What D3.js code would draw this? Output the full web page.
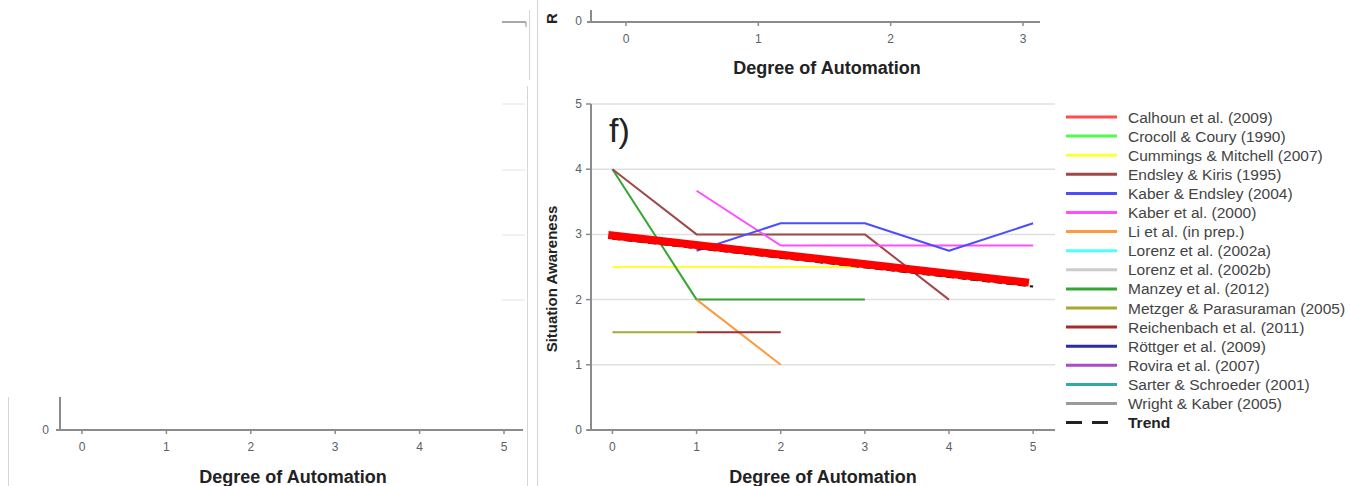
<!DOCTYPE html>
<html>
<head>
<meta charset="utf-8">
<script src="https://cdn.jsdelivr.net/npm/d3@7"></script>
<style>
  body { margin: 0; background: #fff; }
  svg { display: block; font-family: "Liberation Sans", Arial, sans-serif; }
</style>
</head>
<body>
<svg id="canvas" width="1350" height="486"></svg>
<script>
// ---- data ----
let degrees = [0, 1, 2, 3, 4, 5]
let awarenessTicks = [0, 1, 2, 3, 4, 5]

let studies = [
    'Calhoun et al. (2009)', 'Crocoll & Coury (1990)', 'Cummings & Mitchell (2007)',
    'Endsley & Kiris (1995)', 'Kaber & Endsley (2004)', 'Kaber et al. (2000)',
    'Li et al. (in prep.)', 'Lorenz et al. (2002a)', 'Lorenz et al. (2002b)',
    'Manzey et al. (2012)', 'Metzger & Parasuraman (2005)', 'Reichenbach et al. (2011)',
    'Röttger et al. (2009)', 'Rovira et al. (2007)', 'Sarter & Schroeder (2001)',
    'Wright & Kaber (2005)'
]
let studyColors = [
    '#ff4d4d', '#4dff4d', '#ffff33', '#a04848', '#4d4dff', '#ff4dff',
    '#ff9a3c', '#4dffff', '#cccccc', '#33a633', '#a8a833', '#a82b2b',
    '#2b2ba8', '#a84dc8', '#33a8a8', '#9a9a9a'
]

// situation awareness per degree of automation (null = not tested)
let cummingsValues     = [2.5, 2.5, 2.5, 2.5, null, null]
let endsleyKirisValues = [4, 3, 3, 3, 2, null]
let kaberEndsleyValues = [null, 2.75, 3.17, 3.17, 2.75, 3.17]
let kaber2000Values    = [null, 3.67, 2.83, 2.83, 2.83, 2.83]
let liValues           = [null, 2, 1, null, null, null]
let manzeyValues       = [4, 2, 2, 2, null, null]
let metzgerValues      = [1.5, 1.5, null, null, null, null]
let reichenbachValues  = [null, 1.5, 1.5, null, null, null]

let trendDegrees = [0, 5]
let trendValues = [2.935, 2.2]
let highlightDegrees = [-0.05, 4.95]
let highlightValues = [2.99, 2.26]

let seriesValues = {
    'Cummings & Mitchell (2007)': cummingsValues,
    'Manzey et al. (2012)': manzeyValues,
    'Endsley & Kiris (1995)': endsleyKirisValues,
    'Kaber et al. (2000)': kaber2000Values,
    'Kaber & Endsley (2004)': kaberEndsleyValues,
    'Li et al. (in prep.)': liValues,
    'Metzger & Parasuraman (2005)': metzgerValues,
    'Reichenbach et al. (2011)': reichenbachValues
}

let canvas = d3.select('#canvas')
let colorOf = d3.scaleOrdinal().domain(studies).range(studyColors)

let axisGray = '#8c8c8c'
let tickText = '#5a5f6a'

// draws an x axis in the figure's style
let drawXAxis = (g, xScale, yPos, x0, x1, labelY, titleY, titleX) => {
    g.append('line')
        .attr('x1', x0).attr('x2', x1).attr('y1', yPos).attr('y2', yPos)
        .attr('stroke', axisGray).attr('stroke-width', 2)
    let ticks = degrees.filter(d => xScale(d) >= x0 && xScale(d) <= x1)
    g.selectAll(null).data(ticks).enter().append('line')
        .attr('x1', d => xScale(d)).attr('x2', d => xScale(d))
        .attr('y1', yPos).attr('y2', yPos + 4)
        .attr('stroke', axisGray).attr('stroke-width', 1.5)
    g.selectAll(null).data(ticks).enter().append('text')
        .attr('x', d => xScale(d)).attr('y', labelY)
        .attr('text-anchor', 'middle').attr('font-size', 12).attr('fill', tickText)
        .text(d => d)
    g.append('text')
        .attr('x', titleX).attr('y', titleY)
        .attr('text-anchor', 'middle').attr('font-size', 18).attr('font-weight', 'bold')
        .attr('fill', '#222')
        .text('Degree of Automation')
}

// ---- panel borders (pieces of neighbouring panels) ----
let borders = canvas.append('g').attr('stroke', '#d6d6d6').attr('stroke-width', 1)
borders.append('line').attr('x1', 8.5).attr('x2', 8.5).attr('y1', 397).attr('y2', 486)
borders.append('line').attr('x1', 527.5).attr('x2', 527.5).attr('y1', 86).attr('y2', 486)
borders.append('line').attr('x1', 529.5).attr('x2', 529.5).attr('y1', 10).attr('y2', 80)
borders.append('line').attr('x1', 537.5).attr('x2', 537.5).attr('y1', 0).attr('y2', 486)

// ---- left panel remnant ----
let leftPanel = canvas.append('g')
let xLeft = d3.scaleLinear().domain([0, 5]).range([82, 504])
leftPanel.selectAll(null).data([104, 170, 235, 300]).enter().append('line')
    .attr('x1', 502).attr('x2', 525).attr('y1', d => d).attr('y2', d => d)
    .attr('stroke', '#e2e2e2').attr('stroke-width', 1)
leftPanel.append('line').attr('x1', 502).attr('x2', 526).attr('y1', 22).attr('y2', 22)
    .attr('stroke', axisGray).attr('stroke-width', 1.5)
leftPanel.append('line').attr('x1', 526).attr('x2', 526).attr('y1', 22).attr('y2', 27)
    .attr('stroke', axisGray).attr('stroke-width', 1)
leftPanel.append('line').attr('x1', 60).attr('x2', 60).attr('y1', 397).attr('y2', 430)
    .attr('stroke', axisGray).attr('stroke-width', 2)
leftPanel.append('text').attr('x', 49).attr('y', 434).attr('text-anchor', 'end')
    .attr('font-size', 12).attr('fill', tickText).text('0')
drawXAxis(leftPanel, xLeft, 430, 56, 523, 451, 483, 293)

// ---- top panel remnant ----
let topPanel = canvas.append('g')
let xTop = d3.scaleLinear().domain([0, 3]).range([626, 1023])
topPanel.append('line').attr('x1', 591).attr('x2', 591).attr('y1', 10).attr('y2', 22)
    .attr('stroke', axisGray).attr('stroke-width', 2)
topPanel.append('text').attr('x', 582).attr('y', 25).attr('text-anchor', 'end')
    .attr('font-size', 12).attr('fill', tickText).text('0')
topPanel.append('text').attr('transform', 'translate(557,24) rotate(-90)')
    .attr('text-anchor', 'start').attr('font-size', 15).attr('font-weight', 'bold')
    .attr('fill', '#222').text('R')
drawXAxis(topPanel, xTop, 22, 587, 1040, 43, 74, 827)

// ---- main panel f) ----
let x = d3.scaleLinear().domain([-0.255, 5.26]).range([591, 1055])
let y = d3.scaleLinear().domain([0, 5]).range([430, 104])
let main = canvas.append('g')

main.selectAll('.grid').data(awarenessTicks.filter(d => d > 0)).enter().append('line')
    .attr('class', 'grid')
    .attr('x1', 591).attr('x2', 1055)
    .attr('y1', d => y(d)).attr('y2', d => y(d))
    .attr('stroke', '#e0e0e0').attr('stroke-width', 1.5)

main.append('line').attr('x1', 591).attr('x2', 591).attr('y1', y(5)).attr('y2', y(0))
    .attr('stroke', axisGray).attr('stroke-width', 2)
main.selectAll('.ytick').data(awarenessTicks).enter().append('line')
    .attr('class', 'ytick')
    .attr('x1', 586).attr('x2', 591).attr('y1', d => y(d)).attr('y2', d => y(d))
    .attr('stroke', axisGray).attr('stroke-width', 1.5)
main.selectAll('.ylabel').data(awarenessTicks).enter().append('text')
    .attr('class', 'ylabel')
    .attr('x', 582).attr('y', d => y(d) + 4)
    .attr('text-anchor', 'end').attr('font-size', 12).attr('fill', tickText)
    .text(d => d)
main.append('text')
    .attr('transform', `translate(557,${(y(0) + y(5)) / 2 + 12}) rotate(-90)`)
    .attr('text-anchor', 'middle').attr('font-size', 15).attr('font-weight', 'bold')
    .attr('fill', '#222').text('Situation Awareness')

drawXAxis(main, x, 430, 587, 1055, 451, 483, 823)

main.append('text').attr('x', 609).attr('y', 142)
    .attr('font-size', 34).attr('fill', '#222').text('f)')

let line = d3.line()
    .defined(d => d[1] !== null)
    .x(d => x(d[0]))
    .y(d => y(d[1]))

Object.keys(seriesValues).forEach(name => {
    let pts = degrees.map((d, i) => [d, seriesValues[name][i]])
    main.append('path')
        .attr('d', line(pts))
        .attr('fill', 'none')
        .attr('stroke', colorOf(name))
        .attr('stroke-width', 2)
        .attr('stroke-linejoin', 'round')
})

main.append('path')
    .attr('d', line(trendDegrees.map((d, i) => [d, trendValues[i]])))
    .attr('fill', 'none').attr('stroke', '#111').attr('stroke-width', 2)
    .attr('stroke-dasharray', '8,4')

main.append('path')
    .attr('d', line(highlightDegrees.map((d, i) => [d, highlightValues[i]])))
    .attr('fill', 'none').attr('stroke', '#ff0000').attr('stroke-width', 8)

// ---- legend ----
let legend = canvas.append('g').attr('transform', 'translate(1066,117)')
let rowH = 19.1
let rows = legend.selectAll('.row').data(studies).enter().append('g')
    .attr('class', 'row')
    .attr('transform', (d, i) => `translate(0,${i * rowH})`)
rows.append('line')
    .attr('x1', 0).attr('x2', 51).attr('y1', 0).attr('y2', 0)
    .attr('stroke', d => colorOf(d)).attr('stroke-width', 3)
rows.append('text')
    .attr('x', 62).attr('y', 5.5)
    .attr('font-size', 15.5).attr('fill', '#444')
    .text(d => d)

let trendRow = legend.append('g').attr('transform', `translate(0,${studies.length * rowH})`)
trendRow.append('line')
    .attr('x1', 0).attr('x2', 51).attr('y1', 0).attr('y2', 0)
    .attr('stroke', '#222').attr('stroke-width', 3).attr('stroke-dasharray', '16,10')
trendRow.append('text')
    .attr('x', 62).attr('y', 5.5)
    .attr('font-size', 15.5).attr('font-weight', 'bold').attr('fill', '#222')
    .text('Trend')
</script>
</body>
</html>
